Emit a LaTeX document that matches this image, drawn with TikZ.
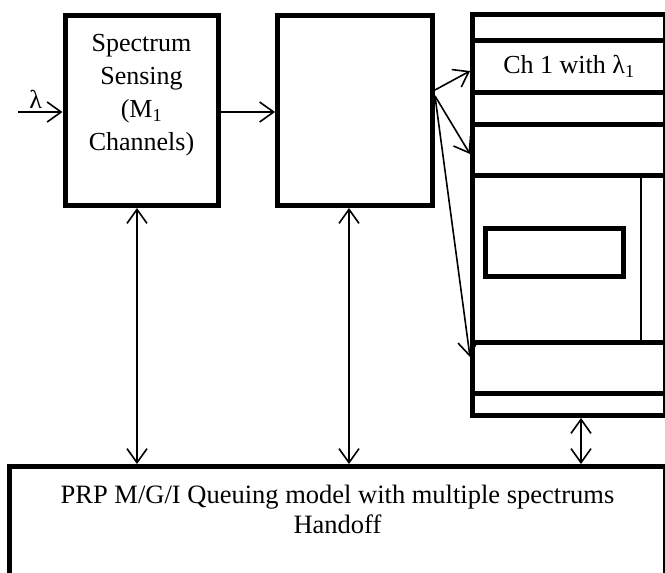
\documentclass[tikz,border=0pt]{standalone}
\usepackage{fontspec}
\setmainfont{Liberation Serif}
\usepackage{tikz}
\usetikzlibrary{positioning}
\usetikzlibrary{arrows.meta}

\begin{document}
\begin{tikzpicture}[
            x = 1pt,
            y = -1pt,
            box/.style = {
                draw,
                rectangle,
                line width = 5pt,
                minimum width = #1,
                inner sep = 0pt
            },
            box/.default = 153pt,
            row/.style = {
                box = 193pt,
                minimum height = #1
            },
            txt/.style = {
                font = \fontsize{26pt}{33pt}\selectfont,
                align = center,
                inner sep = 0pt
            },
            link/.style = {
                line width = 1.6pt,
                -{Straight Barb[length=14pt,width=20pt]}
            },
            both/.style = {
                link,
                {Straight Barb[length=14pt,width=20pt]}-{Straight Barb[length=14pt,width=20pt]}
            }
            ]
            \clip (0,0) rectangle (665,573);

            \node[box, minimum height=190pt] (sense) at (141.5,110.5) {};
            \node[txt, anchor=north] (sensetxt) at (141.5,34) {Spectrum\\Sensing\\(M\textsubscript{1}\\Channels)};
            \node[box=155pt, minimum height=190pt] (mid) at (355,110.5) {};

            \node[row=26pt] (top) at (569,27.5) {};
            \node[row=51.5pt, txt] (ch1) at (569,66.25) {Ch 1 with λ\textsubscript{1}};
            \node[row=32.5pt] (gap) at (569,108.25) {};
            \node[row=51pt] (ch2) at (569,150) {};
            \node[row=166.5pt] (pool) at (569,258.75) {};
            \node[row=51pt] (chn) at (569,367.5) {};
            \node[row=22.5pt] (base) at (569,404.25) {};
            \node[box=138pt, minimum height=48pt] (slot) at (554,252) {};
            \draw[line width=1.8pt] (641,175.5) -- (641,342);

            \node[box=656pt, minimum height=153.5pt] (model) at (337.5,543.25) {};
            \node[txt, anchor=north, font=\fontsize{26.5pt}{30.5pt}\selectfont] (modeltxt) at (337.5,484.5) {PRP M/G/I Queuing model with multiple spectrums\\Handoff};

            \coordinate (in) at (18,112);
            \draw[link] (in) -- node[txt, above=3pt, pos=0.4] {λ} ([yshift=-1.5pt]sense.west);
            \draw[link] ([yshift=-1.5pt]sense.east) -- ([yshift=-1.5pt]mid.west);
            \draw[link] ([yshift=20.5pt]mid.east) -- ([yshift=-4.75pt]ch1.west);
            \draw[link] ([yshift=14.5pt]mid.east) -- ([yshift=-4pt]ch2.west);
            \draw[link] ([yshift=14.5pt]mid.east) -- ([yshift=10.5pt]chn.west);

            \draw[both] ([xshift=-4.5pt]sense.south) -- ([xshift=-4.5pt]sense.south |- model.north);
            \draw[both] ([xshift=-6pt]mid.south) -- ([xshift=-6pt]mid.south |- model.north);
            \draw[both] ([xshift=12pt]base.south) -- ([xshift=12pt]base.south |- model.north);
        \end{tikzpicture}
\end{document}
